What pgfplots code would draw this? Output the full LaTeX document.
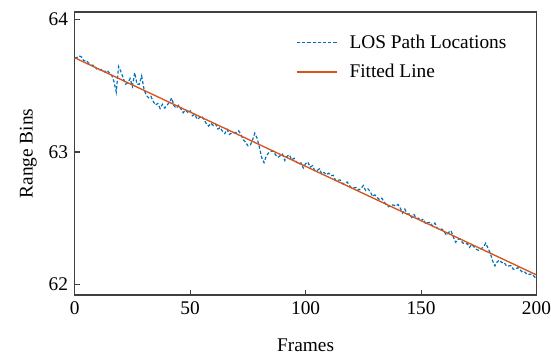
\documentclass[border={10pt 0pt 0pt 5pt}]{standalone}
\usepackage{pgfplots}
\pgfplotsset{compat=1.18}
\usepackage{fontspec}
\setmainfont{Liberation Serif}
\definecolor{mblue}{HTML}{0072BD}
\definecolor{morange}{HTML}{D95319}
\definecolor{axgray}{HTML}{404040}
\begin{document}
\fontsize{14.5}{17}\selectfont
\begin{tikzpicture}
\begin{axis}[
  width=346pt, height=212pt, scale only axis,
  xmin=0, xmax=200, ymin=61.92, ymax=64.057,
  xtick={0,50,100,150,200}, ytick={62,63,64},
  tick align=inside, xtick pos=bottom, ytick pos=left,
  major tick length=4pt,
  axis line style={axgray, line width=1pt},
  tick style={axgray, line width=0.8pt},
  /pgf/number format/assume math mode=true,
  ticklabel style={font=\fontsize{14.5}{17}\selectfont},
  xticklabel style={inner xsep=0pt},
  label style={font=\fontsize{14.5}{17}\selectfont},
  xlabel={Frames}, ylabel={Range Bins},
  xlabel style={yshift=-8pt},
  ylabel style={yshift=-1pt},
  legend style={at={(0.95,0.94)}, anchor=north east, draw=none, fill=none,
    font=\fontsize{14.5}{17}\selectfont, row sep=5.5pt, column sep=7pt},
  legend cell align=left,
  legend image post style={xscale=1.75},
]
\addplot[mblue, line width=0.9pt, dash pattern=on 2.4pt off 1.5pt] table[row sep=\\] {
x y\\
0 63.712\\ 1 63.714\\ 2 63.726\\ 3 63.717\\ 4 63.689\\ 5 63.691\\ 6 63.673\\ 7 63.655\\ 8 63.656\\ 9 63.638\\
10 63.620\\ 11 63.622\\ 12 63.624\\ 13 63.605\\ 14 63.617\\ 15 63.599\\ 16 63.581\\ 17 63.533\\ 18 63.454\\ 19 63.646\\
20 63.608\\ 21 63.560\\ 22 63.512\\ 23 63.523\\ 24 63.555\\ 25 63.497\\ 26 63.599\\ 27 63.511\\ 28 63.512\\ 29 63.574\\
30 63.476\\ 31 63.428\\ 32 63.410\\ 33 63.421\\ 34 63.383\\ 35 63.355\\ 36 63.367\\ 37 63.329\\ 38 63.360\\ 39 63.332\\
40 63.354\\ 41 63.376\\ 42 63.408\\ 43 63.349\\ 44 63.331\\ 45 63.353\\ 46 63.325\\ 47 63.297\\ 48 63.318\\ 49 63.300\\
50 63.312\\ 51 63.274\\ 52 63.286\\ 53 63.247\\ 54 63.259\\ 55 63.271\\ 56 63.243\\ 57 63.215\\ 58 63.196\\ 59 63.218\\
60 63.200\\ 61 63.212\\ 62 63.174\\ 63 63.185\\ 64 63.157\\ 65 63.139\\ 66 63.171\\ 67 63.133\\ 68 63.144\\ 69 63.146\\
70 63.148\\ 71 63.160\\ 72 63.132\\ 73 63.093\\ 74 63.075\\ 75 63.047\\ 76 63.049\\ 77 63.091\\ 78 63.142\\ 79 63.104\\
80 63.036\\ 81 62.958\\ 82 62.920\\ 83 62.971\\ 84 62.993\\ 85 63.005\\ 86 63.007\\ 87 62.979\\ 88 62.960\\ 89 62.972\\
90 62.984\\ 91 62.936\\ 92 62.968\\ 93 62.979\\ 94 62.941\\ 95 62.953\\ 96 62.925\\ 97 62.907\\ 98 62.918\\ 99 62.880\\
100 62.912\\ 101 62.924\\ 102 62.886\\ 103 62.897\\ 104 62.859\\ 105 62.861\\ 106 62.873\\ 107 62.835\\ 108 62.846\\ 109 62.828\\
110 62.840\\ 111 62.822\\ 112 62.824\\ 113 62.785\\ 114 62.787\\ 115 62.789\\ 116 62.761\\ 117 62.763\\ 118 62.774\\ 119 62.746\\
120 62.728\\ 121 62.730\\ 122 62.732\\ 123 62.713\\ 124 62.725\\ 125 62.747\\ 126 62.709\\ 127 62.721\\ 128 62.702\\ 129 62.664\\
130 62.676\\ 131 62.658\\ 132 62.640\\ 133 62.651\\ 134 62.623\\ 135 62.605\\ 136 62.587\\ 137 62.599\\ 138 62.600\\ 139 62.592\\
140 62.604\\ 141 62.576\\ 142 62.538\\ 143 62.569\\ 144 62.531\\ 145 62.533\\ 146 62.505\\ 147 62.527\\ 148 62.498\\ 149 62.500\\
150 62.482\\ 151 62.494\\ 152 62.456\\ 153 62.467\\ 154 62.469\\ 155 62.441\\ 156 62.463\\ 157 62.425\\ 158 62.416\\ 159 62.418\\
160 62.400\\ 161 62.372\\ 162 62.394\\ 163 62.405\\ 164 62.357\\ 165 62.319\\ 166 62.341\\ 167 62.343\\ 168 62.314\\ 169 62.306\\
170 62.308\\ 171 62.280\\ 172 62.302\\ 173 62.283\\ 174 62.265\\ 175 62.257\\ 176 62.269\\ 177 62.281\\ 178 62.312\\ 179 62.274\\
180 62.236\\ 181 62.178\\ 182 62.140\\ 183 62.171\\ 184 62.183\\ 185 62.165\\ 186 62.167\\ 187 62.139\\ 188 62.140\\ 189 62.142\\
190 62.114\\ 191 62.116\\ 192 62.128\\ 193 62.109\\ 194 62.091\\ 195 62.093\\ 196 62.075\\ 197 62.077\\ 198 62.078\\ 199 62.060\\
200 62.042\\
};
\addlegendentry{LOS Path Locations}
\addplot[morange, line width=1pt] coordinates {(0,63.712) (200,62.072)};
\addlegendentry{Fitted Line}
\end{axis}
\end{tikzpicture}
\end{document}
